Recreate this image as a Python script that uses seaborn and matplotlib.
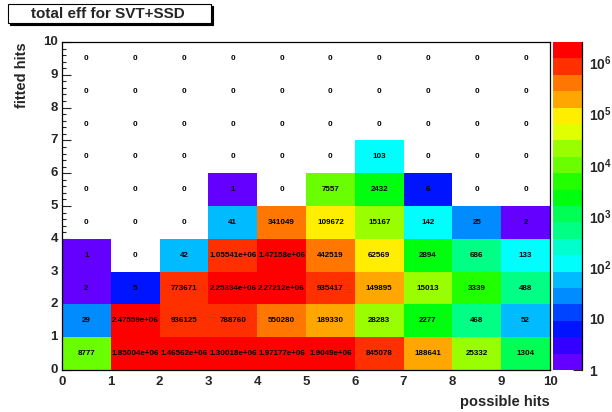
import colorsys
import numpy as np
import pandas as pd
import matplotlib
matplotlib.use("Agg")
import matplotlib.pyplot as plt
import seaborn as sns
from matplotlib.colors import ListedColormap, LogNorm
from matplotlib.patches import Rectangle
from matplotlib.ticker import FixedLocator, FixedFormatter, MultipleLocator, NullFormatter

# bin contents, one list per "fitted hits" bin (bottom row first), columns = "possible hits" bins 0..9
fitted_0 = [8777, 1850040, 1465620, 1300180, 1971770, 1904900, 845078, 188641, 25332, 1304]
fitted_1 = [29, 2475590, 936125, 788760, 550280, 189330, 28283, 2277, 468, 52]
fitted_2 = [2, 5, 773671, 2253340, 2272120, 935417, 149895, 15013, 3339, 488]
fitted_3 = [1, 0, 42, 1055410, 1471580, 442519, 62569, 2894, 686, 133]
fitted_4 = [0, 0, 0, 41, 341049, 109672, 15167, 142, 25, 2]
fitted_5 = [0, 0, 0, 1, 0, 7557, 2432, 6, 0, 0]
fitted_6 = [0, 0, 0, 0, 0, 0, 103, 0, 0, 0]
fitted_7 = [0, 0, 0, 0, 0, 0, 0, 0, 0, 0]
fitted_8 = [0, 0, 0, 0, 0, 0, 0, 0, 0, 0]
fitted_9 = [0, 0, 0, 0, 0, 0, 0, 0, 0, 0]

possible_bins = list(range(10))
fitted_bins = list(range(10))
tick_labels = [str(i) for i in range(11)]
cbar_ticks = [1, 10, 1e2, 1e3, 1e4, 1e5, 1e6]
cbar_labels = ['1', '10', r'$10^{2}$', r'$10^{3}$', r'$10^{4}$', r'$10^{5}$', r'$10^{6}$']

counts = pd.DataFrame([fitted_0, fitted_1, fitted_2, fitted_3, fitted_4,
                       fitted_5, fitted_6, fitted_7, fitted_8, fitted_9],
                      index=fitted_bins, columns=possible_bins, dtype=float)

sns.set_style("ticks")
plt.rcParams['font.family'] = ['Liberation Sans', 'DejaVu Sans']
plt.rcParams['font.weight'] = 'bold'
plt.rcParams['mathtext.fontset'] = 'custom'
plt.rcParams['mathtext.rm'] = 'Liberation Sans:bold'
plt.rcParams['mathtext.bf'] = 'Liberation Sans:bold'
plt.rcParams['mathtext.default'] = 'bf'

# ROOT "pretty palette": 50 hues violet->red, 20 contour levels
n_levels = 20
pretty = [colorsys.hls_to_rgb((280 - (i + 1) * 280 / 50) / 360, 0.5, 1.0) for i in range(50)]
level_colors = [pretty[int((j + 0.99) * 50 / n_levels)] for j in range(n_levels)]
cmap = ListedColormap(level_colors)

fig = plt.figure(figsize=(6.12, 4.12), dpi=100)
ax = fig.add_axes([62 / 612, 1 - 370 / 412, 488 / 612, 328 / 412])
cax = fig.add_axes([553 / 612, 1 - 370 / 412, 29 / 612, 328 / 412])

sns.heatmap(counts, mask=counts <= 0, cmap=cmap,
            norm=LogNorm(vmin=1, vmax=counts.values.max()),
            ax=ax, cbar=True, cbar_ax=cax, linewidths=0)

# cell texts (ROOT TEXT option, %g format), zeros included
for i, row in enumerate(counts.values):
    for j, v in enumerate(row):
        ax.text(j + 0.5, i + 0.5, '%g' % v, ha='center', va='center',
                fontsize=5.8, weight='bold', color='black')

ax.set_ylim(0, 10)
ax.set_xlim(0, 10)
ax.set_xticks(range(11))
ax.set_xticklabels(tick_labels, rotation=0)
ax.set_yticks(range(11))
ax.set_yticklabels(tick_labels, rotation=0)
ax.xaxis.set_minor_locator(MultipleLocator(0.2))
ax.yaxis.set_minor_locator(MultipleLocator(0.2))
ax.tick_params(which='both', direction='in', top=False, right=False,
               labelsize=9.5, width=0.8)
ax.tick_params(which='major', length=6.5)
ax.tick_params(which='minor', length=3.2)
ax.tick_params(axis='x', pad=4)
ax.tick_params(axis='y', pad=3)
ax.set_xlabel('')
ax.set_ylabel('')
for s in ax.spines.values():
    s.set_visible(True)
    s.set_linewidth(0.9)
    s.set_color('black')

fig.text(550 / 612, 1 - 402 / 412, 'possible hits', ha='right', va='center',
         fontsize=10.5, weight='bold')
fig.text(22 / 612, 1 - 42 / 412, 'fitted hits', ha='center', va='top',
         rotation=90, fontsize=10.5, weight='bold')

# colour bar
cb = ax.collections[0].colorbar
cb.outline.set_visible(False)
zmax = counts.values.max()
minor = [m * d for d in cbar_ticks for m in range(2, 10) if m * d < zmax]
cax.yaxis.set_major_locator(FixedLocator(cbar_ticks))
cax.yaxis.set_major_formatter(FixedFormatter(cbar_labels))
cax.yaxis.set_minor_locator(FixedLocator(minor))
cax.yaxis.set_minor_formatter(NullFormatter())
cax.tick_params(which='both', direction='in', right=True, left=False,
                labelright=True, labelleft=False, labelsize=10, width=0.8, pad=5)
cax.tick_params(which='major', length=6.5)
cax.tick_params(which='minor', length=3)
cax.plot([1, 1], [0, 1], transform=cax.transAxes, color='black', lw=0.9, clip_on=False)

# title box with ROOT-style shadow
fig.add_artist(Rectangle((10 / 612, 1 - 25 / 412), 203 / 612, 19 / 412,
                         transform=fig.transFigure, facecolor='black', edgecolor='black', lw=0.8))
fig.add_artist(Rectangle((8 / 612, 1 - 23 / 412), 203 / 612, 19 / 412,
                         transform=fig.transFigure, facecolor='white', edgecolor='black', lw=0.8))
fig.text(108 / 612, 1 - 14 / 412, 'total eff for SVT+SSD', ha='center', va='center',
         fontsize=11, weight='bold')

fig.savefig('out.png', dpi=100)
